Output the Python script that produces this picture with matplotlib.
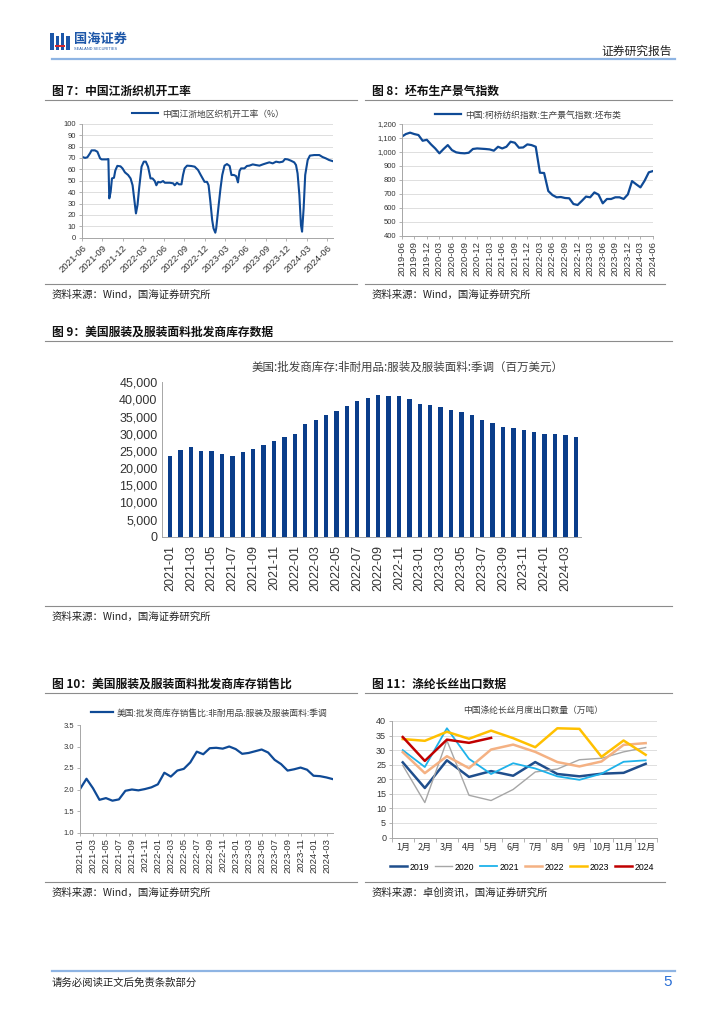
import matplotlib
matplotlib.use('Agg')
import matplotlib.pyplot as plt
import matplotlib.dates as mdates
from matplotlib.lines import Line2D
from matplotlib.patches import Rectangle
from matplotlib.ticker import FuncFormatter, MultipleLocator, FixedLocator
import pandas as pd

W, H = 724, 1024
CJK = ['Noto Sans CJK SC', 'DejaVu Sans']
LAT = ['Liberation Sans', 'DejaVu Sans']
plt.rcParams['font.family'] = CJK

# ---- fig 7: 中国江浙地区织机开工率 (%)
loom_dates = ['2021-06-01', '2021-06-16', '2021-06-26', '2021-07-08', '2021-07-15', '2021-07-30',
              '2021-08-10', '2021-08-22', '2021-08-29', '2021-09-20', '2021-09-28', '2021-10-02',
              '2021-10-08', '2021-10-14', '2021-10-23', '2021-10-29', '2021-11-07', '2021-11-21',
              '2021-11-30', '2021-12-11', '2021-12-25', '2022-01-05', '2022-01-14', '2022-01-21',
              '2022-01-29', '2022-02-05', '2022-02-12', '2022-02-23', '2022-03-05', '2022-03-14',
              '2022-03-24', '2022-04-04', '2022-04-13', '2022-04-23', '2022-04-30', '2022-05-08',
              '2022-05-18', '2022-05-30', '2022-06-07', '2022-06-29', '2022-07-14', '2022-07-21',
              '2022-07-31', '2022-08-09', '2022-08-20', '2022-08-27', '2022-09-03', '2022-09-14',
              '2022-10-03', '2022-10-18', '2022-11-02', '2022-11-14', '2022-11-24', '2022-12-01',
              '2022-12-12', '2022-12-19', '2022-12-27', '2023-01-04', '2023-01-10', '2023-01-18',
              '2023-01-22', '2023-02-02', '2023-02-10', '2023-02-18', '2023-02-28', '2023-03-11',
              '2023-03-23', '2023-03-31', '2023-04-11', '2023-04-21', '2023-04-29', '2023-05-06',
              '2023-05-13', '2023-05-28', '2023-06-08', '2023-06-19', '2023-07-04', '2023-07-19',
              '2023-08-03', '2023-08-18', '2023-09-01', '2023-09-16', '2023-10-01', '2023-10-16',
              '2023-10-31', '2023-11-15', '2023-11-25', '2023-12-07', '2023-12-22', '2024-01-05',
              '2024-01-13', '2024-01-20', '2024-01-28', '2024-02-04', '2024-02-09', '2024-02-16',
              '2024-02-23', '2024-03-05', '2024-03-15', '2024-04-03', '2024-04-26', '2024-05-10',
              '2024-05-25', '2024-06-09', '2024-06-24']
loom_rate = [71, 70, 70.5, 74, 76.6, 76.6, 75.4, 69.6, 68.7, 68.7, 69, 34.5, 40, 52, 52.6, 59,
             63, 62.6, 60.8, 57.3, 55, 52, 46, 34.5, 21.3, 28.7, 43, 62.3, 66.7, 66.7, 62.3, 52,
             52, 49.7, 46, 49, 48.5, 49.7, 48.2, 48.2, 47.7, 46, 48.2, 46.8, 46.8, 55, 60.8, 63.2,
             62.9, 62.3, 59.4, 55, 51.5, 49, 49, 46, 31.6, 15.5, 8.2, 4.4, 8.2, 28.7, 43, 55,
             63.2, 64.6, 62.9, 55, 55, 54, 48.5, 58.5, 60.8, 60.8, 62.9, 63.2, 64.3, 63.7, 63.2,
             64.3, 65.2, 66.1, 65.2, 66.7, 66.1, 66.7, 69, 68.7, 67.5, 66.1, 63.7, 56.4, 37.4,
             11.1, 5.3, 25.7, 55, 68.1, 72, 72.5, 72.5, 70.8, 69.6, 68.1, 67.2]

# ---- fig 8: 坯布生产景气指数 (monthly, 2019-06 .. 2024-06)
grey_start = '2019-06'
grey_index = [1109, 1128, 1138, 1128, 1121, 1080, 1087,
              1054, 1025, 990, 1021, 1049, 1013, 997, 992, 990, 994, 1021, 1025,
              1023, 1021, 1018, 1009, 1037, 1025, 1037, 1073, 1066, 1030, 1032, 1054,
              1049, 1037, 851, 849, 720, 691, 675, 677, 670, 668, 627, 620,
              649, 680, 675, 710, 694, 632, 663, 663, 675, 675, 663, 696,
              791, 768, 746, 794, 854, 863]

# ---- fig 9 / 10: US apparel wholesalers (monthly, 2021-01 .. 2024-04)
us_start = '2021-01'
us_inventory = [23600, 25200, 26100, 25000, 24900, 24200, 23600, 24600, 25500, 26800, 27900, 29200,
                29900, 32800, 34000, 35500, 36600, 38100, 39600, 40500, 41300, 40900, 41000, 40000,
                38700, 38400, 37700, 36800, 36300, 35400, 34100, 33200, 32000, 31700, 31000, 30500,
                29800, 30000, 29600, 29000]
us_ratio = [2.01, 2.25, 2.03, 1.76, 1.80, 1.74, 1.77, 1.97, 2.00, 1.98, 2.01, 2.05,
            2.12, 2.39, 2.30, 2.44, 2.48, 2.63, 2.88, 2.82, 2.96, 2.97, 2.95, 3.00,
            2.94, 2.83, 2.85, 2.89, 2.93, 2.86, 2.69, 2.59, 2.44, 2.47, 2.51, 2.46,
            2.32, 2.31, 2.28, 2.24]

# ---- fig 11: 涤纶长丝出口 (万吨)
months_cn = ['1月', '2月', '3月', '4月', '5月', '6月', '7月', '8月', '9月', '10月', '11月', '12月']
yarn_years = ['2019', '2020', '2021', '2022', '2023', '2024']
yarn_export = [
    [25.8, 17.0, 26.5, 20.8, 22.8, 21.2, 25.9, 21.8, 21.0, 21.9, 22.2, 25.3],
    [24.8, 12.0, 33.3, 14.5, 12.7, 16.5, 22.5, 23.5, 26.7, 27.2, 29.4, 30.9],
    [30.0, 24.2, 37.5, 27.0, 21.8, 25.5, 23.7, 21.0, 19.8, 21.9, 26.0, 26.5],
    [29.3, 22.1, 27.9, 23.8, 30.2, 31.9, 29.4, 25.9, 24.4, 26.1, 31.8, 32.4],
    [33.8, 33.2, 36.3, 33.9, 36.7, 34.1, 31.0, 37.5, 37.3, 27.7, 33.3, 28.4],
    [34.5, 26.3, 33.6, 32.5, 34.2],
]
yarn_colors = ['#1f4e8c', '#a6a6a6', '#1eb2ea', '#f4b183', '#ffc000', '#c00000']
yarn_widths = [1.8, 1.0, 1.3, 1.8, 1.8, 1.8]

BLUE = '#0f4a96'
NAVY = '#0a3d8a'
AXC = '#a6a6a6'
TXT = '#333333'


def box(l, t, r, b):
    return [l / W, 1 - b / H, (r - l) / W, (b - t) / H]


def fx(x):
    return x / W


def fy(y):
    return 1 - y / H


def hline(fig, x0, x1, y, color, lw):
    fig.add_artist(Line2D([fx(x0), fx(x1)], [fy(y), fy(y)], transform=fig.transFigure,
                          color=color, lw=lw))


def style(ax, grid=True, xs=6.5, ys=5.5):
    for s in ['top', 'right']:
        ax.spines[s].set_visible(False)
    for s in ['left', 'bottom']:
        ax.spines[s].set_color(AXC)
        ax.spines[s].set_linewidth(0.7)
    ax.tick_params(colors=AXC, labelcolor=TXT, length=2.5, width=0.6, pad=1.5)
    for lab in ax.get_yticklabels():
        lab.set_family(LAT)
        lab.set_fontsize(ys)
    for lab in ax.get_xticklabels():
        lab.set_family(LAT)
        lab.set_fontsize(xs)
    if grid:
        ax.yaxis.grid(True, color='#d9d9d9', lw=0.6)
        ax.set_axisbelow(True)


fig = plt.figure(figsize=(W / 100, H / 100), dpi=100)

# ---- header
logo = [(50, 33, 4, 17), (56, 36, 3, 14), (61, 33, 3, 17), (66, 36, 4, 14)]
for x, y, w, h in logo:
    fig.add_artist(Rectangle((fx(x), fy(y + h)), w / W, h / H, transform=fig.transFigure,
                             color='#1c56a8', lw=0))
fig.add_artist(Rectangle((fx(55), fy(47)), 10 / W, 2 / H, transform=fig.transFigure,
                         color='#d0262d', lw=0))
fig.text(fx(74), fy(39), '国海证券', fontsize=9.5, fontweight='bold', color='#1c56a8',
         va='center', ha='left')
fig.text(fx(74), fy(48.5), 'SEALAND SECURITIES', fontsize=2.8, color='#1c56a8',
         va='center', ha='left', family=LAT)
fig.text(fx(672), fy(51), '证券研究报告', fontsize=8.5, color='#222222', ha='right', va='center')
hline(fig, 52, 675, 59, '#8eb4e3', 1.6)

# ---- section titles
def section(x, y, text, x0, x1):
    fig.text(fx(x), fy(y), text, fontsize=8.5, fontweight='bold', color='#111111',
             ha='left', va='center')
    hline(fig, x0, x1, y + 9, '#8c8c8c', 0.8)


def source(x, y, text, x0, x1):
    hline(fig, x0, x1, y - 11, '#8c8c8c', 0.8)
    fig.text(fx(x), fy(y), text, fontsize=7.5, color='#222222', ha='left', va='center')


section(52, 91, '图 7：中国江浙织机开工率', 45, 357)
section(372, 91, '图 8：坯布生产景气指数', 365, 672)
source(52, 295, '资料来源：Wind，国海证券研究所', 45, 357)
source(372, 295, '资料来源：Wind，国海证券研究所', 365, 665)
section(52, 332, '图 9：美国服装及服装面料批发商库存数据', 45, 672)
source(52, 617, '资料来源：Wind，国海证券研究所', 45, 672)
section(52, 684, '图 10：美国服装及服装面料批发商库存销售比', 45, 357)
section(372, 684, '图 11：涤纶长丝出口数据', 365, 672)
source(52, 893, '资料来源：Wind，国海证券研究所', 45, 357)
source(372, 893, '资料来源：卓创资讯，国海证券研究所', 365, 665)

# ---- fig 7
ax7 = fig.add_axes(box(81.7, 123.7, 333, 237.7))
d7 = pd.to_datetime(loom_dates)
ax7.plot(d7, loom_rate, color=BLUE, lw=1.5, label='中国江浙地区织机开工率（%）')
ax7.set_ylim(0, 100)
ax7.yaxis.set_major_locator(MultipleLocator(10))
ax7.set_xlim(pd.Timestamp('2021-06-01'), pd.Timestamp('2024-06-26'))
ax7.xaxis.set_major_locator(mdates.MonthLocator(bymonth=[3, 6, 9, 12]))
ax7.xaxis.set_major_formatter(mdates.DateFormatter('%Y-%m'))
style(ax7, xs=6.8)
for lab in ax7.get_xticklabels():
    lab.set_rotation(45)
    lab.set_ha('right')
    lab.set_rotation_mode('anchor')
ax7.legend(loc='center', bbox_to_anchor=(fx(208), fy(114)), bbox_transform=fig.transFigure,
           frameon=False, fontsize=6.3, handlelength=3, handletextpad=0.4, labelcolor='#404040')

# ---- fig 8
ax8 = fig.add_axes(box(401.7, 124, 653, 235.7))
m8 = pd.period_range(grey_start, periods=len(grey_index), freq='M')
x8 = range(len(grey_index))
ax8.plot(x8, grey_index, color=BLUE, lw=1.6, label='中国:柯桥纺织指数:生产景气指数:坯布类')
ax8.set_ylim(400, 1200)
ax8.yaxis.set_major_locator(MultipleLocator(100))
ax8.yaxis.set_major_formatter(FuncFormatter(lambda v, p: f'{v:,.0f}'))
ax8.set_xlim(0, len(grey_index) - 1)
ax8.set_xticks(list(x8)[::3])
ax8.set_xticklabels([m.strftime('%Y-%m') for m in m8][::3], rotation=90)
style(ax8, xs=6.8)
ax8.legend(loc='center', bbox_to_anchor=(fx(528), fy(115)), bbox_transform=fig.transFigure,
           frameon=False, fontsize=6.3, handlelength=3, handletextpad=0.4, labelcolor='#404040')

# ---- fig 9
ax9 = fig.add_axes(box(161.7, 382.3, 581, 536.7))
m9 = pd.period_range(us_start, periods=len(us_inventory), freq='M')
x9 = range(len(us_inventory))
ax9.bar(x9, us_inventory, width=0.42, color=NAVY)
ax9.set_ylim(0, 45000)
ax9.yaxis.set_major_locator(MultipleLocator(5000))
ax9.yaxis.set_major_formatter(FuncFormatter(lambda v, p: f'{v:,.0f}'))
ax9.set_xlim(-0.8, len(us_inventory) - 0.5)
ax9.set_xticks(list(x9)[::2])
ax9.set_xticklabels([m.strftime('%Y-%m') for m in m9][::2], rotation=90)
style(ax9, grid=False, xs=9, ys=9)
ax9.tick_params(axis='both', length=0, pad=3)
ax9.tick_params(axis='x', pad=6)
fig.text(fx(408), fy(367), '美国:批发商库存:非耐用品:服装及服装面料:季调（百万美元）',
         fontsize=8.3, color='#404040', ha='center', va='center')

# ---- fig 10
ax10 = fig.add_axes(box(80, 725, 333, 832.5))
x10 = range(len(us_ratio))
ax10.plot(x10, us_ratio, color=BLUE, lw=1.6, label='美国:批发商库存销售比:非耐用品:服装及服装面料:季调')
ax10.set_ylim(1.0, 3.5)
ax10.yaxis.set_major_locator(MultipleLocator(0.5))
ax10.yaxis.set_major_formatter(FuncFormatter(lambda v, p: f'{v:.1f}'))
ax10.set_xlim(0, len(us_ratio) - 1)
ax10.set_xticks(list(x10)[::2])
ax10.set_xticklabels([m.strftime('%Y-%m') for m in m9][::2], rotation=90)
style(ax10, grid=False, xs=6.8)
ax10.legend(loc='center', bbox_to_anchor=(fx(209), fy(713)), bbox_transform=fig.transFigure,
            frameon=False, fontsize=6.3, handlelength=2.6, handletextpad=0.4, labelcolor='#404040')

# ---- fig 11
ax11 = fig.add_axes(box(391.7, 721, 656.7, 837.5))
for yr, vals, c, lw in zip(yarn_years, yarn_export, yarn_colors, yarn_widths):
    ax11.plot(range(len(vals)), vals, color=c, lw=lw, label=yr)
ax11.set_ylim(0, 40)
ax11.yaxis.set_major_locator(MultipleLocator(5))
ax11.set_xlim(-0.5, len(months_cn) - 0.5)
ax11.set_xticks(range(len(months_cn)))
ax11.set_xticklabels(months_cn)
ax11.xaxis.set_minor_locator(FixedLocator([i - 0.5 for i in range(len(months_cn) + 1)]))
style(ax11, ys=6.5)
ax11.tick_params(axis='x', which='major', length=0, pad=4)
ax11.tick_params(axis='x', which='minor', length=3, color=AXC, width=0.6)
for lab in ax11.get_xticklabels():
    lab.set_family(CJK)
    lab.set_fontsize(6.5)
fig.text(fx(533), fy(710), '中国涤纶长丝月度出口数量（万吨）', fontsize=6.3, color='#404040',
         ha='center', va='center')
leg = ax11.legend(loc='center', bbox_to_anchor=(fx(522), fy(867)), bbox_transform=fig.transFigure,
                  ncol=6, frameon=False, fontsize=6.3, handlelength=1.9, handletextpad=0.3,
                  columnspacing=0.7, borderpad=0.2)
for t in leg.get_texts():
    t.set_family(LAT)

# ---- footer
hline(fig, 52, 675, 971, '#8eb4e3', 1.6)
fig.text(fx(52), fy(983), '请务必阅读正文后免责条款部分', fontsize=7.5, color='#222222',
         ha='left', va='center')
fig.text(fx(672), fy(982), '5', fontsize=11, color='#2a6fd6', ha='right', va='center', family=LAT)

fig.savefig('out.png', dpi=100)
plt.close(fig)
